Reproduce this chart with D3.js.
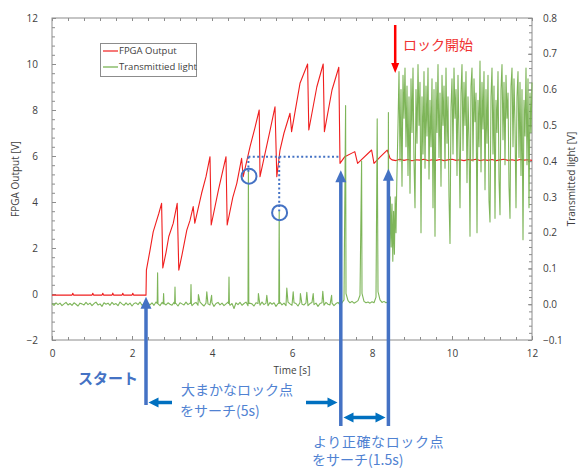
<!DOCTYPE html>
<html>
<head>
<meta charset="utf-8">
<script src="https://cdn.jsdelivr.net/npm/d3@7"></script>
<style>
body { margin: 0; background: #fff; }
text { font-family: "Open Sans", sans-serif; fill: #404040; }
.jp { font-family: "Noto Sans CJK JP", sans-serif; }
</style>
</head>
<body>
<svg id="chart" width="579" height="469"></svg>
<script>
// ---- data ----
var xTicks = [0, 2, 4, 6, 8, 10, 12];
var leftTicks = [-2, 0, 2, 4, 6, 8, 10, 12];
var rightTicks = [-0.1, 0.0, 0.1, 0.2, 0.3, 0.4, 0.5, 0.6, 0.7, 0.8];
var seriesNames = ["FPGA Output", "Transmittied light"];

// FPGA output [t, V]
var fpgaPts = [
  [0, -0.05], [0.5, -0.05], [0.52, 0.03], [0.54, -0.05], [1.0, -0.05], [1.02, 0.03], [1.04, -0.05],
  [1.25, -0.05], [1.27, 0.03], [1.29, -0.05], [1.5, -0.05], [1.52, 0.04], [1.54, -0.05],
  [1.75, -0.05], [1.77, 0.03], [1.79, -0.05], [2.0, -0.05], [2.02, 0.03], [2.04, -0.05], [2.35, -0.05],
  [2.36, 1.04], [2.45, 1.9], [2.53, 2.7], [2.6, 3.1], [2.67, 3.5], [2.74, 3.94],
  [2.77, 1.13], [2.85, 1.8], [2.92, 2.5], [3.03, 3.07], [3.13, 3.94],
  [3.17, 1.04], [3.25, 1.7], [3.37, 2.78], [3.45, 3.2], [3.53, 3.8], [3.57, 3.08],
  [3.74, 4.38], [3.85, 5.1], [3.95, 5.97],
  [3.98, 3.0], [4.16, 4.52], [4.35, 5.97],
  [4.38, 3.0], [4.52, 4.2], [4.62, 4.81], [4.74, 5.9], [4.78, 5.1], [4.95, 6.4], [5.07, 7.2], [5.18, 8.0],
  [5.2, 5.1], [5.45, 7.1], [5.575, 8.14],
  [5.62, 5.1], [5.7, 6.26], [5.8, 7.0], [5.95, 7.86], [5.99, 7.06], [6.2, 9.16], [6.39, 10.0],
  [6.42, 7.13], [6.62, 9.0], [6.78, 10.0],
  [6.81, 7.06], [7.0, 8.87], [7.17, 9.86],
  [7.2, 5.68], [7.32, 5.97], [7.57, 6.19], [7.64, 5.68], [7.99, 6.26], [8.05, 5.68], [8.2, 5.95],
  [8.38, 6.26], [8.45, 5.9]
];
var fpgaLock = [
  [8.5, 5.83], [8.6, 5.8], [8.7, 5.86], [8.8, 5.81], [8.9, 5.85], [9.0, 5.79], [9.1, 5.84], [9.2, 5.82],
  [9.3, 5.86], [9.4, 5.8], [9.5, 5.84], [9.6, 5.81], [9.7, 5.85], [9.8, 5.8], [9.9, 5.83], [10.0, 5.86],
  [10.1, 5.81], [10.2, 5.84], [10.3, 5.8], [10.4, 5.85], [10.5, 5.82], [10.6, 5.86], [10.7, 5.8],
  [10.8, 5.84], [10.9, 5.81], [11.0, 5.85], [11.1, 5.8], [11.2, 5.83], [11.3, 5.86], [11.4, 5.81],
  [11.5, 5.84], [11.6, 5.8], [11.7, 5.85], [11.8, 5.82], [11.9, 5.84], [12.0, 5.81]
];

// transmitted light baseline, one sample every 0.05 s from 0 to 8.40 s
var baseT0 = 0, baseDt = 0.05;
var lightBase = [
  0.002,-0.003,0.004,-0.001,0.003,-0.004,0.001,0.005,-0.002,0.002,
  -0.003,0.004,0.000,-0.005,0.003,0.001,-0.002,0.005,-0.001,0.003,
  -0.004,0.002,0.006,-0.002,0.001,-0.006,0.004,0.000,0.003,-0.003,
  0.005,-0.001,0.002,-0.004,0.006,0.001,-0.003,0.004,-0.002,0.003,
  -0.005,0.002,0.004,-0.001,0.006,-0.003,0.001,0.008,0.003,-0.002,
  0.004,-0.003,0.006,0.001,-0.004,0.005,0.002,-0.002,0.004,0.000,
  -0.003,0.005,0.002,-0.005,0.004,0.001,-0.002,0.006,-0.001,0.003,
  -0.004,0.002,0.005,-0.003,0.006,0.000,-0.005,0.003,0.001,-0.002,
  0.004,-0.006,0.002,0.005,-0.002,0.003,-0.004,0.001,0.006,-0.003,
  0.002,-0.012,0.004,-0.001,0.005,-0.003,0.002,0.006,-0.004,0.003,
  0.001,-0.005,0.004,0.002,-0.003,0.006,-0.001,0.003,-0.004,0.005,
  0.000,0.004,-0.006,0.002,0.005,-0.002,0.003,-0.004,0.006,0.001,
  -0.003,0.004,0.002,-0.005,0.005,0.000,-0.002,0.004,-0.004,0.002,
  0.005,-0.001,0.003,-0.006,0.002,0.004,-0.003,0.005,0.000,-0.002,
  0.003,-0.004,0.002,0.005,-0.002,0.004,0.012,0.030,0.010,0.004,
  0.008,0.003,0.006,0.010,0.025,0.030,0.008,0.004,0.006,0.003,
  0.007,0.004,0.020,0.035,0.012,0.005,0.008,0.004,0.006
];
// thin spikes on the baseline [t, V] (foot, peak, foot)
var lightSpikes = [
  [2.63, 0.002], [2.64, 0.088], [2.65, 0.001],
  [2.78, 0.001], [2.79, 0.03], [2.80, 0.002],
  [3.065, 0.001], [3.075, 0.048], [3.085, 0.002],
  [3.465, 0.002], [3.475, 0.055], [3.485, 0.001],
  [3.66, 0.027], [3.87, 0.035], [3.99, 0.025],
  [4.415, 0.002], [4.425, 0.076], [4.435, 0.001],
  [4.90, 0.003], [4.91, 0.373], [4.92, 0.002],
  [5.16, 0.03], [5.37, 0.025],
  [5.67, 0.002], [5.68, 0.26], [5.69, 0.003],
  [5.87, 0.045], [6.03, 0.035], [6.21, 0.03], [6.37, 0.033], [6.53, 0.03], [6.77, 0.036],
  [6.99, 0.025], [7.34, 0.555], [7.74, 0.40], [8.13, 0.518], [8.41, 0.536]
];
// rising edge after the lock starts [t, V]
var lightRamp = [
  [8.42, 0.01], [8.44, 0.14], [8.46, 0.30], [8.48, 0.16], [8.50, 0.28], [8.52, 0.12],
  [8.54, 0.26], [8.56, 0.14], [8.58, 0.30], [8.60, 0.20], [8.62, 0.34]
];
// locked region, one sample every 0.025 s from 8.65 s
var lockT0 = 8.65, lockDt = 0.025;
var lightLock = [
  0.50,0.65,0.40,0.60,0.33,0.64,0.52,0.66,0.44,0.61,0.36,0.58,0.31,0.63,0.48,0.66,0.40,0.27,0.60,0.45,
  0.67,0.50,0.62,0.20,0.58,0.42,0.65,0.38,0.61,0.47,0.66,0.35,0.57,0.44,0.63,0.27,0.60,0.19,0.62,0.48,
  0.67,0.41,0.59,0.33,0.64,0.50,0.61,0.38,0.66,0.45,0.58,0.30,0.17,0.55,0.63,0.42,0.66,0.52,0.60,0.36,
  0.64,0.47,0.27,0.59,0.67,0.43,0.62,0.50,0.65,0.34,0.58,0.46,0.19,0.61,0.66,0.40,0.63,0.51,0.59,0.20,
  0.57,0.44,0.68,0.37,0.62,0.49,0.65,0.32,0.60,0.45,0.64,0.29,0.23,0.58,0.66,0.42,0.61,0.24,0.57,0.48,
  0.65,0.35,0.25,0.60,0.67,0.46,0.62,0.39,0.64,0.52,0.59,0.33,0.24,0.61,0.66,0.44,0.63,0.50,0.27,0.58,
  0.65,0.41,0.62,0.36,0.60,0.18,0.57,0.47,0.66,0.39,0.63,0.27,0.59,0.48,0.62
];

// ---- layout ----
var svg = d3.select("#chart");
var plot = { left: 52, right: 532, top: 18, bottom: 340 };
var x = d3.scaleLinear().domain([0, 12]).range([plot.left, plot.right]);
var yL = d3.scaleLinear().domain([-2, 12]).range([plot.bottom, plot.top]);
var yR = d3.scaleLinear().domain([-0.1, 0.8]).range([plot.bottom, plot.top]);
var axisCol = "#8c8c8c";
var red = "#f01e1e", green = "#70ad47", blue = "#4472c4", blue2 = "#0070c0", textBlue = "#5082d2";

var lightPts = [];
lightBase.forEach(function(v, i) { lightPts.push([baseT0 + i * baseDt, v]); });
lightSpikes.forEach(function(p) { lightPts.push(p); });
lightRamp.forEach(function(p) { lightPts.push(p); });
lightLock.forEach(function(v, i) { lightPts.push([lockT0 + i * lockDt, v]); });
lightPts.sort(function(a, b) { return a[0] - b[0]; });
var fpgaAll = fpgaPts.concat(fpgaLock);

// ---- axes ----
function styleAxis(g) {
  g.select(".domain").remove();
  g.selectAll("line").attr("stroke", axisCol);
  g.selectAll("text").style("font-size", "10px").attr("fill", "#404040");
}
var xMinor = d3.range(0, 12.01, 0.4);
var yLMinor = d3.range(-2, 12.01, 0.4);
var yRMinor = d3.range(-0.1, 0.801, 0.02);

svg.append("g").attr("transform", "translate(0," + plot.bottom + ")")
  .call(d3.axisBottom(x).tickValues(xMinor).tickSize(-3).tickFormat("")).call(styleAxis);
svg.append("g").attr("transform", "translate(0," + plot.bottom + ")")
  .call(d3.axisBottom(x).tickValues(xTicks).tickSize(-4).tickPadding(10).tickFormat(d3.format("d"))).call(styleAxis);
svg.append("g").attr("transform", "translate(0," + plot.top + ")")
  .call(d3.axisTop(x).tickValues(xMinor).tickSize(-3).tickFormat("")).call(styleAxis);
svg.append("g").attr("transform", "translate(" + plot.left + ",0)")
  .call(d3.axisLeft(yL).tickValues(yLMinor).tickSize(-3).tickFormat("")).call(styleAxis);
svg.append("g").attr("transform", "translate(" + plot.left + ",0)")
  .call(d3.axisLeft(yL).tickValues(leftTicks).tickSize(-4).tickPadding(14).tickFormat(d3.format("d"))).call(styleAxis);
svg.append("g").attr("transform", "translate(" + plot.right + ",0)")
  .call(d3.axisRight(yR).tickValues(yRMinor).tickSize(-3).tickFormat("")).call(styleAxis);
svg.append("g").attr("transform", "translate(" + plot.right + ",0)")
  .call(d3.axisRight(yR).tickValues(rightTicks).tickSize(-4).tickPadding(11).tickFormat(d3.format(".1f"))).call(styleAxis);

svg.append("rect").attr("x", plot.left).attr("y", plot.top)
  .attr("width", plot.right - plot.left).attr("height", plot.bottom - plot.top)
  .attr("fill", "none").attr("stroke", axisCol).attr("stroke-width", 1);

svg.append("text").attr("x", 292).attr("y", 374).attr("text-anchor", "middle")
  .style("font-size", "10px").text("Time [s]");
svg.append("text").attr("transform", "translate(19," + ((plot.top + plot.bottom) / 2) + ") rotate(-90)")
  .attr("text-anchor", "middle").style("font-size", "10px").text("FPGA Output [V]");
svg.append("text").attr("transform", "translate(575," + ((plot.top + plot.bottom) / 2) + ") rotate(-90)")
  .attr("text-anchor", "middle").style("font-size", "10px").text("Transmitted light [V]");

// ---- series ----
var fpgaLine = d3.line().x(function(d) { return x(d[0]); }).y(function(d) { return yL(d[1]); });
var lightLine = d3.line().x(function(d) { return x(d[0]); }).y(function(d) { return yR(d[1]); });

svg.append("path").datum(fpgaAll).attr("d", fpgaLine)
  .attr("fill", "none").attr("stroke", red).attr("stroke-width", 1.1).attr("stroke-linejoin", "round");
svg.append("path").datum(lightPts).attr("d", lightLine)
  .attr("fill", "none").attr("stroke", green).attr("stroke-width", 1.1).attr("opacity", 0.9)
  .attr("stroke-linejoin", "round");

// ---- legend ----
var lg = svg.append("g");
lg.append("rect").attr("x", 100.5).attr("y", 43.5).attr("width", 96).attr("height", 33)
  .attr("fill", "#fff").attr("stroke", axisCol);
[red, green].forEach(function(c, i) {
  var ly = 51 + i * 16;
  lg.append("line").attr("x1", 103).attr("x2", 118).attr("y1", ly).attr("y2", ly)
    .attr("stroke", c).attr("stroke-width", 1.2);
  lg.append("text").attr("x", 119).attr("y", ly + 3.3).style("font-size", "9.5px").text(seriesNames[i]);
});

// ---- annotations ----
function arrowHead(g, x2, y2, ux, uy, col, hw, hl) {
  var bx = x2 - ux * hl, by = y2 - uy * hl;
  g.append("path").attr("d", "M" + x2 + "," + y2 + "L" + (bx - uy * hw / 2) + "," + (by + ux * hw / 2) +
    "L" + (bx + uy * hw / 2) + "," + (by - ux * hw / 2) + "Z").attr("fill", col);
}
function arrow(g, x1, y1, x2, y2, col, w, hw, hl, both) {
  var dx = x2 - x1, dy = y2 - y1, len = Math.hypot(dx, dy), ux = dx / len, uy = dy / len;
  var sx = both ? x1 + ux * hl * 0.9 : x1, sy = both ? y1 + uy * hl * 0.9 : y1;
  g.append("line").attr("x1", sx).attr("y1", sy).attr("x2", x2 - ux * hl * 0.9).attr("y2", y2 - uy * hl * 0.9)
    .attr("stroke", col).attr("stroke-width", w);
  arrowHead(g, x2, y2, ux, uy, col, hw, hl);
  if (both) arrowHead(g, x1, y1, -ux, -uy, col, hw, hl);
}
var an = svg.append("g");
var startT = 2.35, coarseT = 7.22, fineT = 8.41, lockT = 8.58;

// dotted guide lines and circles
an.append("line").attr("x1", x(4.91)).attr("x2", x(coarseT)).attr("y1", yL(5.97)).attr("y2", yL(5.97))
  .attr("stroke", blue).attr("stroke-width", 2).attr("stroke-dasharray", "2,2.4");
an.append("line").attr("x1", x(4.91)).attr("x2", x(4.91)).attr("y1", yL(5.97)).attr("y2", yR(0.37))
  .attr("stroke", blue).attr("stroke-width", 2).attr("stroke-dasharray", "2,2.4");
an.append("line").attr("x1", x(5.68)).attr("x2", x(5.68)).attr("y1", yL(5.97)).attr("y2", yR(0.26))
  .attr("stroke", blue).attr("stroke-width", 2).attr("stroke-dasharray", "2,2.4");
an.append("circle").attr("cx", x(4.925)).attr("cy", yR(0.358)).attr("r", 7.5)
  .attr("fill", "none").attr("stroke", blue).attr("stroke-width", 2);
an.append("circle").attr("cx", x(5.69)).attr("cy", yR(0.256)).attr("r", 7.5)
  .attr("fill", "none").attr("stroke", blue).attr("stroke-width", 2);

// vertical arrows
arrow(an, x(startT), 405, x(startT), yL(-0.12), blue, 3.5, 11, 12);
arrow(an, x(coarseT), 426, x(coarseT), yL(5.38), blue, 3.5, 11, 12);
arrow(an, x(fineT), 426, x(fineT), yL(5.45), blue, 3.5, 11, 12);
arrow(an, x(lockT), 25, x(lockT), 73, "#ff0000", 2.5, 8, 10);

// horizontal arrows
arrow(an, 172, 402.5, 148.5, 402.5, blue2, 3.5, 10, 10);
arrow(an, 306, 402.5, 337.5, 402.5, blue2, 3.5, 10, 10);
arrow(an, 343.5, 417.5, 385.5, 417.5, blue2, 3.5, 10, 10, true);

an.append("text").attr("class", "jp").attr("x", 403).attr("y", 50).style("font-size", "14px")
  .style("fill", "#f03232").text("ロック開始");
an.append("text").attr("class", "jp").attr("x", 78).attr("y", 384).style("font-size", "15px")
  .style("font-weight", "bold").style("fill", blue).text("スタート");
an.append("text").attr("class", "jp").attr("x", 181).attr("y", 395).style("font-size", "14px")
  .style("fill", textBlue).text("大まかなロック点");
an.append("text").attr("class", "jp").attr("x", 180).attr("y", 415.5).style("font-size", "14px")
  .style("fill", textBlue).text("をサーチ(5s)");
an.append("text").attr("class", "jp").attr("x", 313).attr("y", 446.5).style("font-size", "14px")
  .style("letter-spacing", "0.6px").style("fill", textBlue).text("より正確なロック点");
an.append("text").attr("class", "jp").attr("x", 312).attr("y", 465).style("font-size", "14px")
  .style("fill", textBlue).text("をサーチ(1.5s)");
</script>
</body>
</html>
